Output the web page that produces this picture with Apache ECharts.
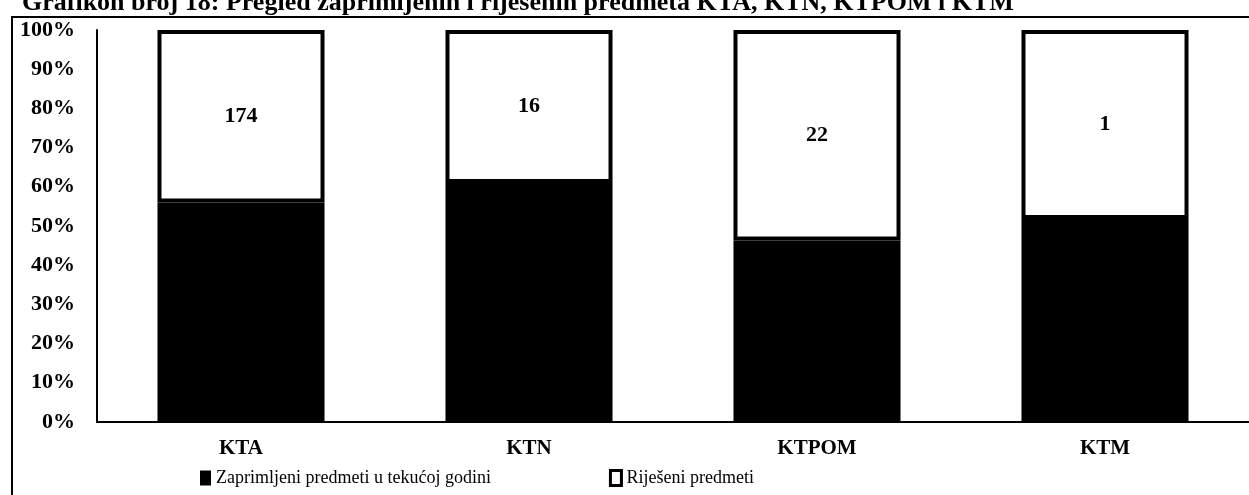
<!DOCTYPE html>
<html>
<head>
<meta charset="utf-8">
<script src="https://cdn.jsdelivr.net/npm/echarts@6/dist/echarts.min.js"></script>
<style>
  html, body { margin: 0; padding: 0; background: #fff; }
  #chart { width: 1249px; height: 495px; }
</style>
</head>
<body>
<div id="chart"></div>
<script>
// kategorije i udjeli (%) procitani s grafikona
const categories = ['KTA', 'KTN', 'KTPOM', 'KTM'];
const receivedShare = [56, 61, 46.3, 51.8];   // Zaprimljeni predmeti u tekućoj godini
const resolvedShare = [44, 39, 53.7, 48.2];   // Riješeni predmeti
const resolvedLabels = [174, 16, 22, 1];      // brojevi upisani u bijeli dio stupca

const font = 'Liberation Serif';

let myChart = echarts.init(document.getElementById('chart'));
myChart.setOption({
  animation: false,
  backgroundColor: '#fff',
  title: {
    // naslov je u izvorniku odrezan pri vrhu
    text: 'Grafikon broj 18: Pregled zaprimljenih i riješenih predmeta KTA, KTN, KTPOM i KTM',
    left: 17,
    top: -15,
    textStyle: { fontFamily: font, fontSize: 26, fontWeight: 'bold', color: '#000' }
  },
  graphic: [
    {
      // okvir oko grafikona
      type: 'rect',
      z: -1,
      shape: { x: 12, y: 17, width: 1300, height: 520 },
      style: { fill: 'none', stroke: '#000', lineWidth: 2 }
    }
  ],
  legend: {
    left: 195,
    top: 464,
    itemWidth: 11,
    itemHeight: 15,
    itemGap: 118,
    icon: 'rect',
    textStyle: { fontFamily: font, fontSize: 18, color: '#000' },
    data: [
      { name: 'Zaprimljeni predmeti u tekućoj godini', itemStyle: { color: '#000', borderWidth: 0 } },
      { name: 'Riješeni predmeti', itemStyle: { color: '#fff', borderColor: '#000', borderWidth: 3 } }
    ]
  },
  grid: {
    left: 97,
    right: 0,
    top: 30,
    bottom: 73
  },
  xAxis: {
    type: 'category',
    data: categories,
    axisLine: { lineStyle: { color: '#000', width: 2 } },
    axisTick: { show: false },
    axisLabel: { margin: 16, fontFamily: font, fontSize: 21, fontWeight: 'bold', color: '#000' }
  },
  yAxis: {
    type: 'value',
    min: 0,
    max: 100,
    interval: 10,
    axisLine: { show: true, lineStyle: { color: '#000', width: 2 } },
    axisTick: { show: false },
    splitLine: { show: false },
    axisLabel: {
      margin: 22,
      formatter: '{value}%',
      fontFamily: font,
      fontSize: 22,
      fontWeight: 'bold',
      color: '#000'
    }
  },
  series: [
    {
      name: 'Zaprimljeni predmeti u tekućoj godini',
      type: 'bar',
      stack: 'ukupno',
      barWidth: '58%',
      data: receivedShare,
      itemStyle: { color: '#000' }
    },
    {
      name: 'Riješeni predmeti',
      type: 'bar',
      stack: 'ukupno',
      barWidth: '58%',
      data: resolvedShare,
      itemStyle: { color: '#fff', borderColor: '#000', borderWidth: 4 },
      label: {
        show: true,
        position: 'inside',
        formatter: p => resolvedLabels[p.dataIndex],
        fontFamily: font,
        fontSize: 22,
        fontWeight: 'bold',
        color: '#000'
      }
    }
  ]
});
</script>
</body>
</html>
